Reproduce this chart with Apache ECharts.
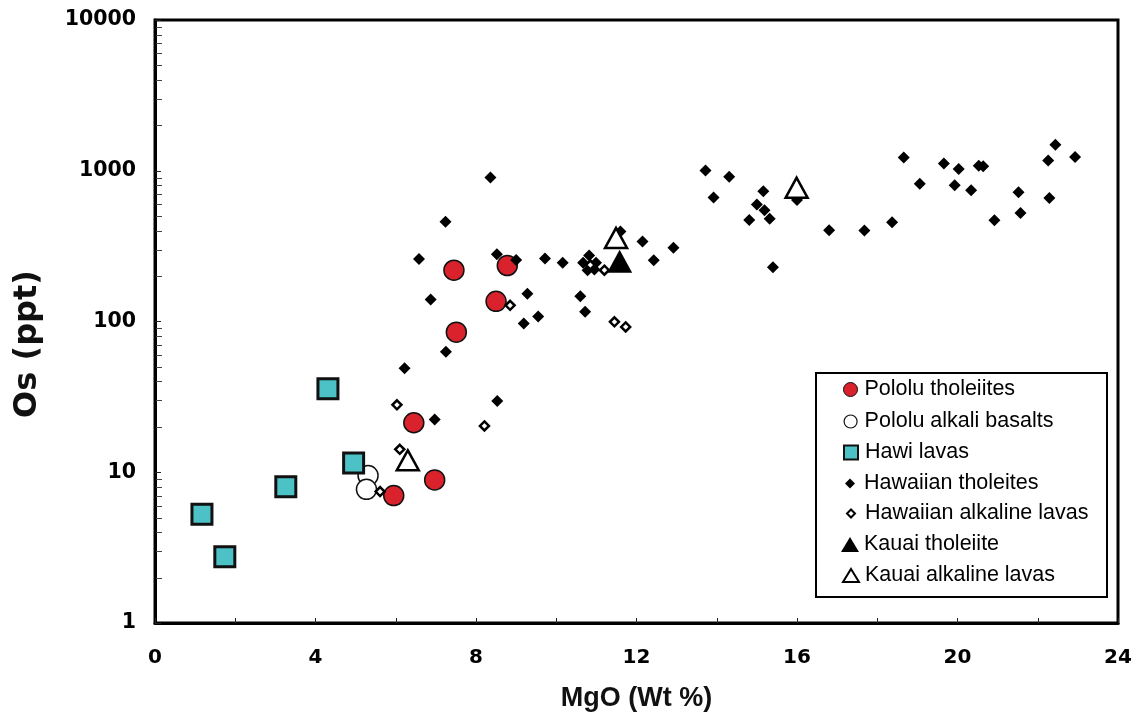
<!DOCTYPE html>
<html>
<head>
<meta charset="utf-8">
<script src="https://cdn.jsdelivr.net/npm/echarts@6/dist/echarts.min.js"></script>
<style>
  html, body { margin: 0; padding: 0; background: #ffffff; }
  #chart { width: 1140px; height: 715px; }
</style>
</head>
<body>
<div id="chart"></div>
<script>
// Os concentration (ppt) against MgO (wt %) for Hawaiian lavas.

// Pololu tholeiites
const pololuTholMgO = [7.45, 8.78, 8.50, 7.51, 6.45, 6.97, 5.95];
const pololuTholOs  = [219, 235, 136, 85, 21.3, 8.9, 7.0];

// Pololu alkali basalts
const pololuAlkMgO = [5.31, 5.27];
const pololuAlkOs  = [9.5, 7.7];

// Hawi lavas
const hawiMgO = [4.31, 4.95, 3.26, 1.17, 1.74];
const hawiOs  = [35.8, 11.5, 8.0, 5.27, 2.75];

// Hawaiian tholeiites
const hawTholMgO = [8.36, 7.24, 6.58, 6.87, 7.25, 6.22, 6.97, 8.53,
  8.52, 9.00, 9.72, 10.16, 10.82, 10.67, 10.99, 10.78, 10.95,
  11.60, 12.15, 12.43, 12.92, 9.28, 9.55, 9.19, 10.60, 10.72, 15.40,
  13.72, 14.31, 13.92, 15.16, 15.00, 15.19, 15.32, 14.81,
  16.00, 16.80, 17.68, 18.37, 18.66, 19.06, 19.66, 20.03, 19.93, 20.34,
  20.53, 20.64, 20.92, 21.52, 21.57, 22.26, 22.44, 22.93, 22.29];
const hawTholOs = [903, 459, 260, 140, 63, 49, 22.4, 29.7,
  279, 256, 262, 245, 274, 245, 245, 219, 221,
  396, 340, 255, 308, 153, 108, 97, 147, 116, 229,
  1005, 913, 665, 730, 598, 546, 481, 471,
  640, 403, 401, 455, 1225, 820, 1119, 1026, 800, 741,
  1080, 1070, 469, 720, 525, 1170, 1486, 1233, 659];

// Hawaiian alkaline lavas
const hawAlkMgO = [6.03, 6.10, 5.61, 8.21, 8.85, 10.85, 11.20, 11.45, 11.73];
const hawAlkOs  = [28, 14.2, 7.45, 20.3, 128, 237, 219, 99.6, 92];

// Kauai tholeiite
const kauaiTholMgO = [11.58];
const kauaiTholOs  = [251];

// Kauai alkaline lavas
const kauaiAlkMgO = [11.49, 15.99, 6.30];
const kauaiAlkOs  = [358, 771, 12.0];

// Axis tick labels and the 2..9 minor ticks of each decade
const mgoTickLabels = ['0', '4', '8', '12', '16', '20', '24'];
const osTickLabels  = ['1', '10', '100', '1000', '10000'];
const osMinorTicks  = [2, 3, 4, 5, 6, 7, 8, 9,
  20, 30, 40, 50, 60, 70, 80, 90,
  200, 300, 400, 500, 600, 700, 800, 900,
  2000, 3000, 4000, 5000, 6000, 7000, 8000, 9000];

const pairs = (xs, ys) => xs.map((x, i) => [x, ys[i]]);

const RED = '#D9222B';
const CYAN = '#4CC2C7';
const BLACK = '#000000';

const seriesDefs = [
  { name: 'Pololu tholeiites', x: pololuTholMgO, y: pololuTholOs, symbol: 'circle', size: 20,
    style: { color: RED, borderColor: '#111', borderWidth: 1.5 },
    legend: { w: 14, h: 14, style: { borderWidth: 1 } } },
  { name: 'Pololu alkali basalts', x: pololuAlkMgO, y: pololuAlkOs, symbol: 'circle', size: 20,
    style: { color: '#ffffff', borderColor: '#111', borderWidth: 1.5 },
    legend: { w: 13, h: 13, style: { borderWidth: 1.2 } } },
  { name: 'Hawi lavas', x: hawiMgO, y: hawiOs, symbol: 'rect', size: 20,
    style: { color: CYAN, borderColor: '#111', borderWidth: 3 },
    legend: { w: 14, h: 14, style: { borderWidth: 2 } } },
  { name: 'Hawaiian tholeites', x: hawTholMgO, y: hawTholOs, symbol: 'diamond', size: 12,
    style: { color: BLACK, borderWidth: 0 },
    legend: { w: 10, h: 10, style: { borderWidth: 0 } } },
  { name: 'Hawaiian alkaline lavas', x: hawAlkMgO, y: hawAlkOs, symbol: 'diamond', size: 9,
    style: { color: '#ffffff', borderColor: BLACK, borderWidth: 2.5, borderJoin: 'miter' },
    legend: { w: 8, h: 8, style: { borderWidth: 2 } } },
  { name: 'Kauai tholeiite', x: kauaiTholMgO, y: kauaiTholOs, symbol: 'triangle', size: [25, 23],
    style: { color: BLACK, borderWidth: 0 },
    legend: { w: 18, h: 15, style: { borderWidth: 0 } } },
  { name: 'Kauai alkaline lavas', x: kauaiAlkMgO, y: kauaiAlkOs, symbol: 'triangle', size: [22, 20],
    style: { color: '#ffffff', borderColor: BLACK, borderWidth: 2.5, borderJoin: 'miter' },
    legend: { w: 16, h: 13, style: { borderWidth: 2 } } }
];

const legendCenters = [389, 421, 452, 483, 513, 544, 575];
const legendFont = { fontFamily: 'Liberation Sans', fontSize: 21.5, lineHeight: 21, color: '#000' };

const chart = echarts.init(document.getElementById('chart'), null, { renderer: 'canvas' });

const option = {
  backgroundColor: '#ffffff',
  animation: false,
  grid: {
    left: 155, right: 22, top: 20, bottom: 92,
    outerBoundsMode: 'none',
    containLabel: false,
    show: true, borderColor: '#000', borderWidth: 3, backgroundColor: 'transparent'
  },
  xAxis: {
    type: 'value',
    min: 0, max: 24, interval: 4,
    name: 'MgO (Wt %)',
    nameLocation: 'middle',
    nameGap: 62,
    nameTextStyle: { fontFamily: 'Liberation Sans', fontWeight: 'bold', fontSize: 27, color: '#111' },
    axisLine: { show: true, onZero: false, lineStyle: { color: '#000', width: 3 } },
    axisTick: { show: true, inside: true, length: 5, lineStyle: { color: '#222', width: 1 } },
    minorTick: { show: true, splitNumber: 2, length: 5, lineStyle: { color: '#222', width: 1 } },
    splitLine: { show: false },
    axisLabel: {
      margin: 25,
      fontFamily: 'DejaVu Sans', fontWeight: 'bold', fontSize: 20, color: '#000',
      formatter: v => mgoTickLabels[Math.round(v / 4)]
    }
  },
  yAxis: {
    type: 'log',
    logBase: 10,
    min: 1, max: 10000,
    axisLine: { show: true, onZero: false, lineStyle: { color: '#000', width: 3 } },
    axisTick: { show: true, inside: true, length: 6, lineStyle: { color: '#222', width: 1 } },
    splitLine: { show: false },
    axisLabel: {
      margin: 19,
      fontFamily: 'DejaVu Sans', fontWeight: 'bold', fontSize: 20.5, color: '#000',
      formatter: v => osTickLabels[Math.round(Math.log10(v))]
    }
  },
  legend: seriesDefs.map((d, i) => ({
    data: [d.name],
    orient: 'vertical',
    left: 850 - d.legend.w / 2,
    top: legendCenters[i] - 10.5,
    padding: 0,
    itemGap: 0,
    itemWidth: d.legend.w,
    itemHeight: d.legend.h,
    itemStyle: d.legend.style,
    selectedMode: false,
    textStyle: Object.assign({}, legendFont, { padding: [0, 0, 0, Math.max(0, 9 - d.legend.w / 2)] }),
    z: 10
  })),
  graphic: [
    {
      type: 'rect',
      left: 815, top: 372,
      shape: { width: 291, height: 224 },
      style: { fill: '#ffffff', stroke: '#000', lineWidth: 2 },
      z: 5
    },
    {
      // vertical axis title
      type: 'text',
      x: 28, y: 344,
      rotation: Math.PI / 2,
      style: {
        text: 'Os (ppt)',
        fontFamily: 'DejaVu Sans', fontWeight: 'bold', fontSize: 32,
        fill: '#111', align: 'center', verticalAlign: 'middle'
      },
      z: 5
    }
  ],
  series: [
    {
      type: 'custom',
      name: 'minor ticks',
      silent: true,
      clip: false,
      z: 1,
      data: osMinorTicks.map(v => [0, v]),
      renderItem: (params, api) => {
        const p = api.coord([api.value(0), api.value(1)]);
        return {
          type: 'line',
          shape: { x1: p[0] + 1, y1: Math.round(p[1]) + 0.5, x2: p[0] + 7, y2: Math.round(p[1]) + 0.5 },
          style: { stroke: '#444', lineWidth: 1 }
        };
      }
    }
  ].concat(seriesDefs.map(d => ({
    type: 'scatter',
    name: d.name,
    data: pairs(d.x, d.y),
    symbol: d.symbol,
    symbolSize: d.size,
    itemStyle: Object.assign({ opacity: 1 }, d.style),
    emphasis: { disabled: true },
    z: 2
  })))
};

chart.setOption(option);
</script>
</body>
</html>
